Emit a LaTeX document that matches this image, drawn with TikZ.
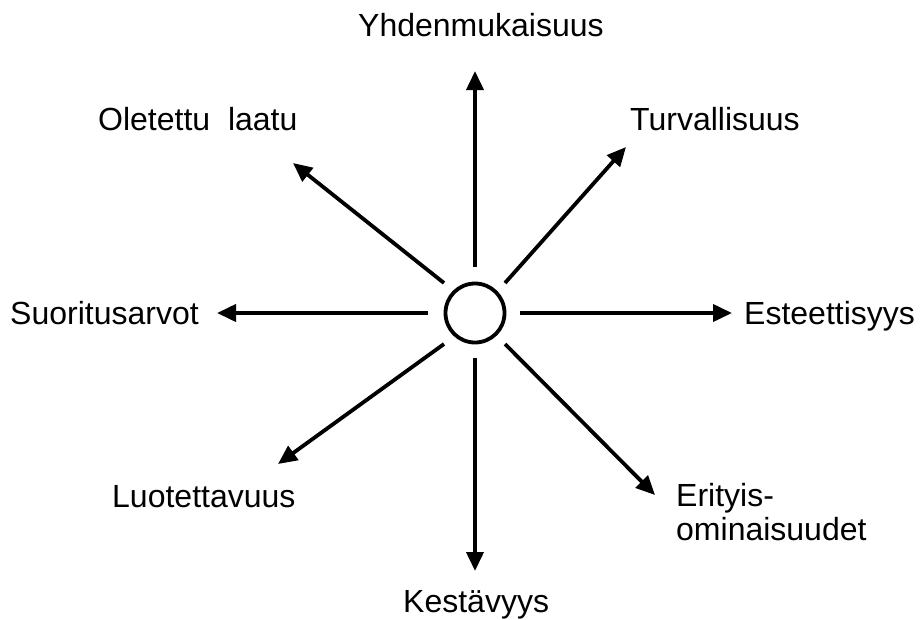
\documentclass[tikz,border=0pt]{standalone}
\usepackage{fontspec}
\setmainfont{Liberation Sans}
\usetikzlibrary{arrows.meta}
\begin{document}
\begin{tikzpicture}[x=1pt,y=-1pt,
  lab/.style={inner sep=0pt, anchor=base west, font=\fontsize{32}{38}\selectfont},
  ray/.style={line width=3.8pt, -{Triangle[length=19pt,width=17pt]}},
  hub/.style={circle, draw, line width=3.8pt, minimum size=59pt, inner sep=0pt}]
\useasboundingbox (0,0) rectangle (924,619);
\node[hub] (c) at (475,313) {};
% start points
\coordinate (sU) at (475,267);
\coordinate (sD) at (475,358);
\coordinate (sL) at (428,313);
\coordinate (sR) at (520,313);
\coordinate (sUL) at (444,283);
\coordinate (sUR) at (505,283);
\coordinate (sLL) at (444,344);
\coordinate (sLR) at (505,344);
% tips
\coordinate (tU) at (475,71);
\coordinate (tD) at (475,571);
\coordinate (tL) at (217,313);
\coordinate (tR) at (732,313);
\coordinate (tUL) at (293,163);
\coordinate (tUR) at (626,147);
\coordinate (tLL) at (278,464);
\coordinate (tLR) at (655,495);
\draw[ray] (sU) -- (tU);
\draw[ray] (sD) -- (tD);
\draw[ray] (sL) -- (tL);
\draw[ray] (sR) -- (tR);
\draw[ray] (sUL) -- (tUL);
\draw[ray] (sUR) -- (tUR);
\draw[ray] (sLL) -- (tLL);
\draw[ray] (sLR) -- (tLR);
% labels
\node[lab] (yh) at (358,36) {Yhdenmukaisuus};
\node[lab] (ol) at (98,130) {Oletettu\ \ laatu};
\node[lab] (tu) at (630,130) {Turvallisuus};
\node[lab] (su) at (10,324) {Suoritusarvot};
\node[lab] (es) at (744,324) {Esteettisyys};
\node[lab] (lu) at (112,507) {Luotettavuus};
\node[lab] (er1) at (676,506) {Erityis-};
\node[lab] (er2) at (676,540) {ominaisuudet};
\node[lab] (ke) at (403,612) {Kestävyys};
\end{tikzpicture}
\end{document}
